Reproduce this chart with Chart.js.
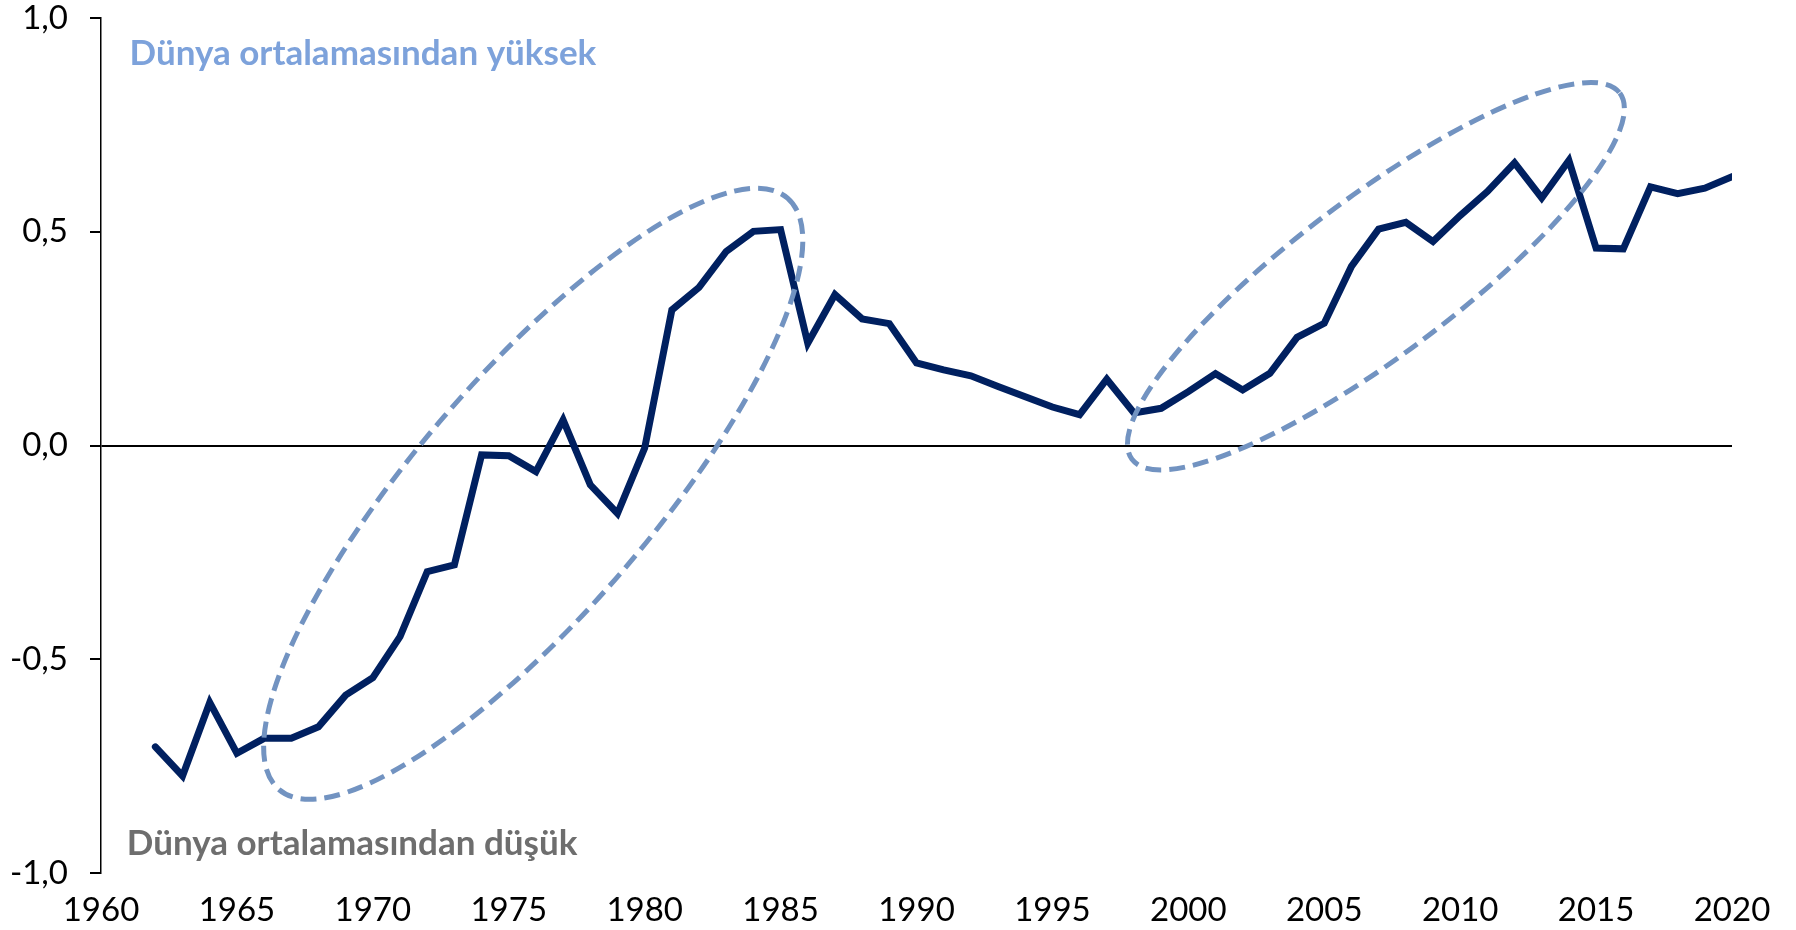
<!DOCTYPE html>
<html>
<head>
<meta charset="utf-8">
<script src="https://cdn.jsdelivr.net/npm/chart.js@4/dist/chart.umd.min.js"></script>
<style>
  html, body { margin: 0; padding: 0; background: #fff; }
  #wrap { width: 1796px; height: 930px; }
</style>
</head>
<body>
<div id="wrap"><canvas id="gapChart" width="1796" height="930"></canvas></div>
<script>
var years = [1962, 1963, 1964, 1965, 1966, 1967, 1968, 1969, 1970, 1971,
  1972, 1973, 1974, 1975, 1976, 1977, 1978, 1979, 1980, 1981,
  1982, 1983, 1984, 1985, 1986, 1987, 1988, 1989, 1990, 1991,
  1992, 1993, 1994, 1995, 1996, 1997, 1998, 1999, 2000, 2001,
  2002, 2003, 2004, 2005, 2006, 2007, 2008, 2009, 2010, 2011,
  2012, 2013, 2014, 2015, 2016, 2017, 2018, 2019, 2020];
var values = [-0.705, -0.773, -0.601, -0.720, -0.685, -0.685, -0.658, -0.584, -0.543, -0.447,
  -0.295, -0.279, -0.022, -0.024, -0.061, 0.060, -0.092, -0.159, -0.006, 0.317,
  0.370, 0.454, 0.501, 0.505, 0.239, 0.353, 0.296, 0.285, 0.193, 0.177,
  0.163, 0.138, 0.114, 0.090, 0.072, 0.155, 0.076, 0.087, 0.126, 0.168,
  0.130, 0.169, 0.253, 0.286, 0.419, 0.506, 0.522, 0.477, 0.538, 0.594,
  0.661, 0.579, 0.667, 0.462, 0.460, 0.605, 0.589, 0.602, 0.629];
var xTicks = [1960, 1965, 1970, 1975, 1980, 1985, 1990, 1995, 2000, 2005, 2010, 2015, 2020];
var yTicks = [-1, -0.5, 0, 0.5, 1];

// annotation texts and the two dashed ellipses (centre in data units)
var notes = [
  { text: 'Dünya ortalamasından yüksek', x: 1961.05, y: 0.917, color: '#7DA2DB' },
  { text: 'Dünya ortalamasından düşük', x: 1960.95, y: -0.932, color: '#6E6E6E' }
];
var ovals = [
  { x: 1975.9, y: -0.113, rx: 390, ry: 118, angle: -49.3 },
  { x: 2006.9, y: 0.396, rx: 305, ry: 79, angle: -36.9 }
];

var points = years.map(function(y, i) { return { x: y, y: values[i] }; });

var extras = {
  id: 'extras',
  afterDatasetsDraw: function(chart) {
    var ctx = chart.ctx;
    var xs = chart.scales.x, ys = chart.scales.y;
    ctx.save();
    ctx.strokeStyle = '#7293C1';
    ctx.lineWidth = 5;
    ctx.setLineDash([16, 8]);
    ovals.forEach(function(o) {
      ctx.beginPath();
      ctx.ellipse(xs.getPixelForValue(o.x), ys.getPixelForValue(o.y), o.rx, o.ry,
        o.angle * Math.PI / 180, 0, Math.PI * 2);
      ctx.stroke();
    });
    ctx.setLineDash([]);
    ctx.font = 'bold 35px Lato';
    ctx.textAlign = 'left';
    ctx.textBaseline = 'middle';
    notes.forEach(function(n) {
      ctx.fillStyle = n.color;
      ctx.fillText(n.text, xs.getPixelForValue(n.x), ys.getPixelForValue(n.y));
    });
    ctx.restore();
  }
};

var chart = new Chart(document.getElementById('gapChart').getContext('2d'), {
  type: 'line',
  data: {
    datasets: [{
      data: points,
      borderColor: '#002060',
      borderWidth: 7,
      borderJoinStyle: 'miter',
      borderCapStyle: 'round',
      pointRadius: 0,
      tension: 0,
      fill: false
    }]
  },
  options: {
    responsive: false,
    animation: false,
    events: [],
    layout: { padding: { top: 18, right: 64, left: 0, bottom: 0 } },
    plugins: { legend: { display: false }, tooltip: { enabled: false } },
    scales: {
      x: {
        type: 'linear',
        min: 1960,
        max: 2020,
        afterBuildTicks: function(s) { s.ticks = xTicks.map(function(v) { return { value: v }; }); },
        afterFit: function(s) { s.height = 57; s.paddingLeft = 0; s.paddingRight = 0; },
        grid: { display: false, drawTicks: false },
        border: { display: false },
        ticks: {
          padding: 18,
          color: '#000',
          font: { family: 'Lato', size: 33 },
          maxRotation: 0,
          callback: function(v) { return String(v); }
        }
      },
      y: {
        min: -1,
        max: 1,
        afterBuildTicks: function(s) { s.ticks = yTicks.map(function(v) { return { value: v }; }); },
        afterFit: function(s) { s.width = 101; s.paddingTop = 0; s.paddingBottom = 0; },
        grid: {
          color: function(c) { return c.tick && c.tick.value === 0 ? '#000' : 'rgba(0,0,0,0)'; },
          lineWidth: 2,
          tickColor: '#000',
          tickLength: 11
        },
        border: { display: true, color: '#000', width: 1.5 },
        ticks: {
          padding: 22,
          color: '#000',
          font: { family: 'Lato', size: 33 },
          callback: function(v) { return v.toFixed(1).replace('.', ','); }
        }
      }
    }
  },
  plugins: [extras]
});
</script>
</body>
</html>
